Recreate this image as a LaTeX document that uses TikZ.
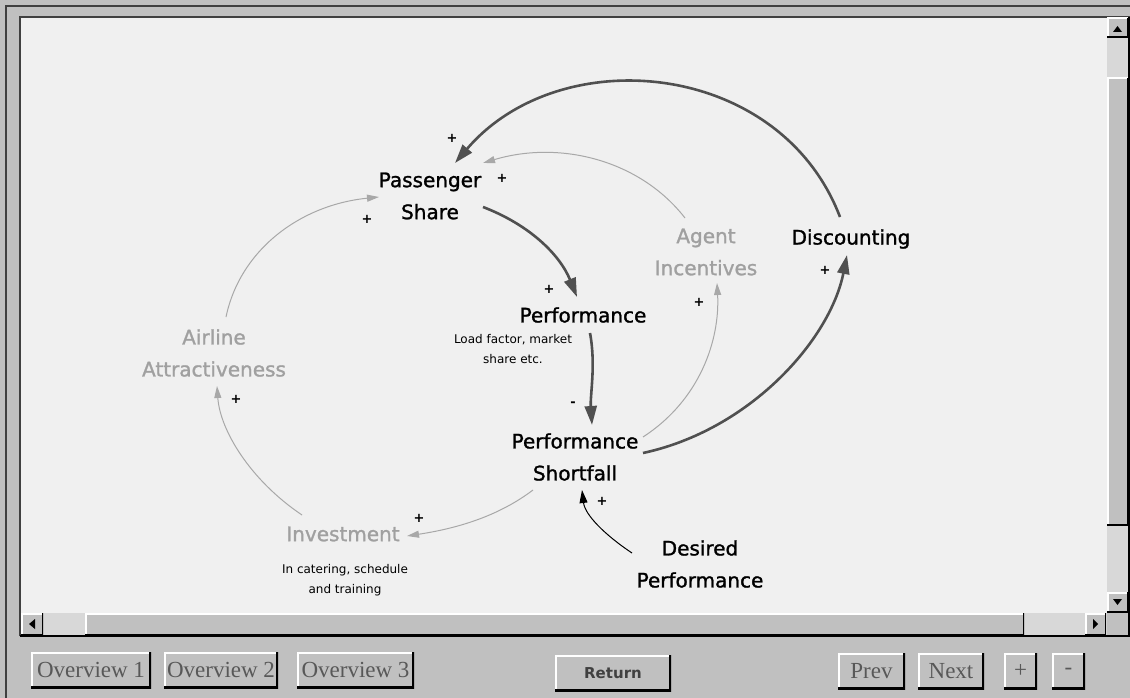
\documentclass[tikz,border=0pt]{standalone}
\usepackage{fontspec}
\setmainfont{DejaVu Sans}
\newfontfamily\btnfont{Liberation Serif}
\newfontfamily\labelfont[FakeBold=1.3]{DejaVu Sans}
\usetikzlibrary{arrows.meta,calc}
\definecolor{winbg}{HTML}{C0C0C0}
\definecolor{canvasbg}{HTML}{F0F0F0}
\definecolor{framec}{HTML}{404040}
\definecolor{stip}{HTML}{D8D8D8}
\definecolor{dkarrow}{HTML}{505050}
\definecolor{ltarrow}{HTML}{A8A8A8}
\definecolor{ltext}{HTML}{A0A0A0}
\definecolor{btntext}{HTML}{585858}
\begin{document}
\begin{tikzpicture}[x=1pt,y=-1pt,
  var/.style={align=center,inner sep=0pt,font=\labelfont\fontsize{20}{32}\selectfont,text=black},
  gvar/.style={var,text=ltext},
  note/.style={align=center,inner sep=0pt,font=\fontsize{12}{20}\selectfont,text=black},
  sign/.style={inner sep=0pt,font=\bfseries\fontsize{13}{13}\selectfont,text=black},
  strong/.style={draw=dkarrow,line width=2.6pt,-{Triangle[length=19pt,width=12pt]}},
  weak/.style={draw=ltarrow,line width=1pt,-{Triangle[length=12pt,width=7pt]}},
  blk/.style={draw=black,line width=1pt,-{Triangle[length=13pt,width=8pt]}},
  bevel/.style={fill=winbg,path picture={
    \draw[white,line width=#1] (path picture bounding box.south west) -- (path picture bounding box.north west) -- (path picture bounding box.north east);
    \draw[black,line width=#1] (path picture bounding box.south west) -- (path picture bounding box.south east) -- (path picture bounding box.north east);}},
  btn/.style={bevel=4pt,inner sep=0pt,minimum height=36pt,text=btntext,font=\btnfont\fontsize{23}{23}\selectfont}
]
\useasboundingbox (0,0) rectangle (1130,698);
% window
\fill[winbg] (0,0) rectangle (1130,698);
\draw[framec,line width=2pt] (6,698) -- (6,6) -- (1130,6);
\fill[canvasbg] (20,17) rectangle (1130,636);
\draw[framec,line width=2pt] (20,636) -- (20,17) -- (1130,17);
\draw[black,line width=2pt] (20,636) -- (1129,636) -- (1129,17);
% vertical scrollbar
\fill[stip] (1107,38) rectangle (1128,592);
\path[bevel=3pt] (1107,18) rectangle (1128,38);
\fill (1113,32) -- (1122,32) -- (1117.5,26) -- cycle;
\path[bevel=3pt] (1107,78) rectangle (1128,525);
\path[bevel=3pt] (1107,592) rectangle (1128,612);
\fill (1113,599) -- (1122,599) -- (1117.5,605) -- cycle;
% horizontal scrollbar
\fill[stip] (43,613) rectangle (1085,635);
\path[bevel=3pt] (21,613) rectangle (43,635);
\fill (29,624) -- (35,619) -- (35,629) -- cycle;
\path[bevel=3pt] (85,613) rectangle (1024,635);
\path[bevel=3pt] (1085,613) rectangle (1106,635);
\fill (1098,624) -- (1093,619) -- (1093,629) -- cycle;
\fill[winbg] (1107,613) rectangle (1128,635);
% buttons
\node[btn,minimum width=120pt] (ov1) at (91,670) {Overview 1};
\node[btn,minimum width=114pt] (ov2) at (221,670) {Overview 2};
\node[btn,minimum width=117pt] (ov3) at (355.5,670) {Overview 3};
\node[btn,minimum width=116pt,font=\bfseries\fontsize{15}{15}\selectfont,text=framec] (ret) at (613,673) {Return};
\node[btn,minimum width=67pt] (prev) at (871.5,671) {Prev};
\node[btn,minimum width=66pt] (next) at (951,671) {Next};
\node[btn,minimum width=33pt] (zin) at (1020.5,671) {+};
\node[btn,minimum width=33pt] (zout) at (1068.5,671) {-};
% variables
\node[var] (ps) at (430,196) {Passenger\\Share};
\node[var] (perf) at (583,315) {Performance};
\node[note] (perfnote) at (513,349) {Load factor, market\\share etc.};
\node[var] (pfs) at (575,457) {Performance\\Shortfall};
\node[var] (dp) at (700,564) {Desired\\Performance};
\node[var] (disc) at (851,239) {Discounting};
\node[gvar] (ai) at (706,252) {Agent\\Incentives};
\node[gvar] (aa) at (214,353) {Airline\\Attractiveness};
\node[gvar] (inv) at (343,534) {Investment};
\node[note] (invnote) at (345,580) {In catering, schedule\\and training};
% links
\draw[strong] ($(disc)+(-11,-22)$) .. controls (780,60) and (560,40) .. ($(ps)+(25,-33)$);
\draw[weak] ($(ai)+(-21,-34)$) .. controls (640,160) and (560,140) .. ($(ps)+(53,-33)$);
\draw[strong] ($(ps)+(53,11)$) .. controls (530,225) and (560,255) .. ($(perf)+(-6,-18)$);
\draw[strong] ($(perf)+(7,18)$) .. controls (596,365) and (590,395) .. ($(pfs)+(17,-32)$);
\draw[weak] ($(pfs)+(68,-20)$) .. controls (700,400) and (720,340) .. ($(ai)+(11,31)$);
\draw[strong] ($(pfs)+(68,-4)$) .. controls (750,430) and (830,340) .. ($(disc)+(-4,16)$);
\draw[weak] ($(pfs)+(-42,33)$) .. controls (500,515) and (460,528) .. ($(inv)+(64,2)$);
\draw[weak] ($(inv)+(-41,-19)$) .. controls (250,480) and (220,430) .. ($(aa)+(3,33)$);
\draw[weak] ($(aa)+(12,-36)$) .. controls (240,250) and (300,205) .. ($(ps)+(-51,1)$);
\draw[blk] ($(dp)+(-68,-11)$) .. controls (605,535) and (585,515) .. ($(pfs)+(7,33)$);
% polarities
\node[sign] (s1) at (452,138) {+};
\node[sign] (s2) at (502,178) {+};
\node[sign] (s3) at (549,289) {+};
\node[sign] (s4) at (573,404) {-};
\node[sign] (s5) at (699,302) {+};
\node[sign] (s6) at (825,270) {+};
\node[sign] (s7) at (419,518) {+};
\node[sign] (s8) at (236,399) {+};
\node[sign] (s9) at (367,219) {+};
\node[sign] (s10) at (602,501) {+};
\end{tikzpicture}
\end{document}
